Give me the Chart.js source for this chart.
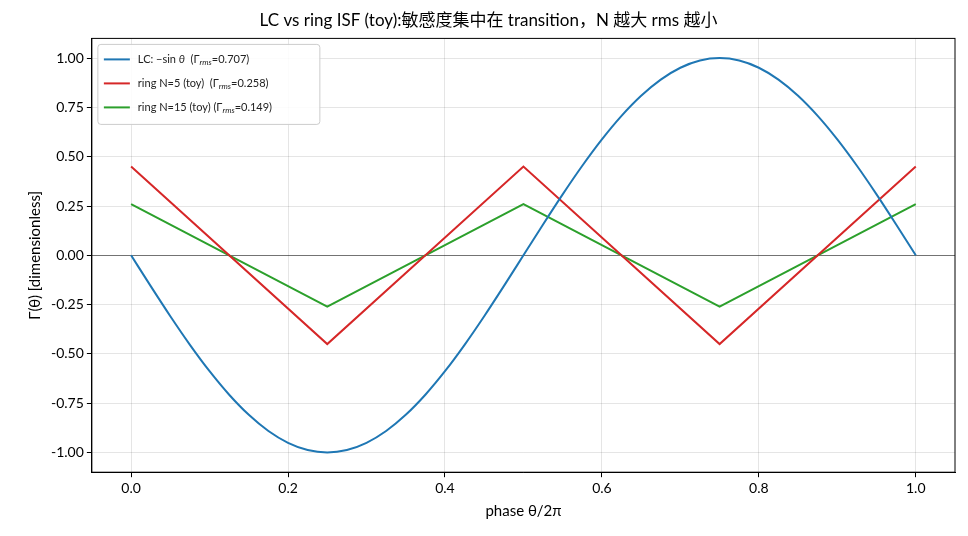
<!DOCTYPE html>
<html><head><meta charset="utf-8">
<script src="https://cdn.jsdelivr.net/npm/chart.js@4"></script>
<style>body{margin:0;background:#fff}#w{width:968px;height:536px}</style>
</head><body><div id="w"><canvas id="c"></canvas></div>
<script>
const lcPhase=[0,0.025,0.05,0.075,0.1,0.125,0.15,0.175,0.2,0.225,0.25,0.275,0.3,0.325,0.35,0.375,0.4,0.425,0.45,0.475,0.5,0.525,0.55,0.575,0.6,0.625,0.65,0.675,0.7,0.725,0.75,0.775,0.8,0.825,0.85,0.875,0.9,0.925,0.95,0.975,1];
const lcValues=[0,-0.1564,-0.309,-0.454,-0.5878,-0.7071,-0.809,-0.891,-0.9511,-0.9877,-1,-0.9877,-0.9511,-0.891,-0.809,-0.7071,-0.5878,-0.454,-0.309,-0.1564,0,0.1564,0.309,0.454,0.5878,0.7071,0.809,0.891,0.9511,0.9877,1,0.9877,0.9511,0.891,0.809,0.7071,0.5878,0.454,0.309,0.1564,0];
const ringPhase=[0,0.25,0.5,0.75,1];
const ring5=[0.45,-0.45,0.45,-0.45,0.45];
const ring15=[0.26,-0.26,0.26,-0.26,0.26];
const yTicks=[-1,-0.75,-0.5,-0.25,0,0.25,0.5,0.75,1];
const legendItems=[
 {c:'#1f77b4',parts:[['LC: \u2212sin ',''],['\u03b8','i'],['  (\u0393',''],['rms','s'],['=0.707)','']]},
 {c:'#d62728',parts:[['ring N=5 (toy)  (\u0393',''],['rms','s'],['=0.258)','']]},
 {c:'#2ca02c',parts:[['ring N=15 (toy) (\u0393',''],['rms','s'],['=0.149)','']]}];
const F='Lato, "Noto Sans CJK SC", sans-serif';
const pts=(xs,ys)=>xs.map((x,i)=>({x,y:ys[i]}));
const legendPlugin={id:'lg',afterDraw(ch){
 const {ctx,chartArea:a}=ch;ctx.save();
 ctx.strokeStyle='#000';ctx.lineWidth=1;ctx.strokeRect(a.left,a.top,a.right-a.left,a.bottom-a.top);
 const x0=a.left+6,y0=a.top+6,w=222,h=80;
 ctx.fillStyle='rgba(255,255,255,0.85)';ctx.strokeStyle='#ccc';
 ctx.beginPath();ctx.roundRect(x0,y0,w,h,3);ctx.fill();ctx.stroke();
 legendItems.forEach((it,i)=>{const y=y0+15+i*24;
  ctx.strokeStyle=it.c;ctx.lineWidth=2;ctx.beginPath();ctx.moveTo(x0+6,y);ctx.lineTo(x0+32,y);ctx.stroke();
  let x=x0+40;ctx.fillStyle='#222';ctx.textBaseline='middle';
  it.parts.forEach(([t,s])=>{ctx.font=(s==='s'?'italic 8px ':s==='i'?'italic 11px ':'11px ')+F;
   ctx.fillText(t,x,s==='s'?y+3:y);x+=ctx.measureText(t).width;});});
 ctx.restore();}};
new Chart(document.getElementById('c'),{type:'scatter',
 data:{datasets:[
  {data:pts(lcPhase,lcValues),borderColor:'#1f77b4',showLine:true,pointRadius:0,borderWidth:2,cubicInterpolationMode:'monotone'},
  {data:pts(ringPhase,ring5),borderColor:'#d62728',showLine:true,pointRadius:0,borderWidth:2},
  {data:pts(ringPhase,ring15),borderColor:'#2ca02c',showLine:true,pointRadius:0,borderWidth:2}]},
 options:{responsive:true,maintainAspectRatio:false,animation:false,
  layout:{padding:{left:22,right:13,top:4,bottom:12}},
  plugins:{legend:{display:false},tooltip:{enabled:false},
   title:{display:true,text:'LC vs ring ISF (toy):敏感度集中在 transition，N 越大 rms 越小',color:'#000',font:{family:F,size:17,weight:'normal'},padding:{top:6,bottom:8}}},
  scales:{
   x:{type:'linear',min:-0.05,max:1.05,border:{color:'#000'},
    afterBuildTicks(s){s.ticks=[0,0.2,0.4,0.6,0.8,1].map(v=>({value:v}));},
    ticks:{color:'#000',font:{family:F,size:14},callback:v=>v.toFixed(1)},
    grid:{color:'rgba(0,0,0,0.1)',tickColor:'#000',tickLength:5},
    title:{display:true,text:'phase θ/2π',color:'#000',font:{family:F,size:15},padding:{top:2}}},
   y:{min:-1.1,max:1.1,border:{color:'#000'},
    afterBuildTicks(s){s.ticks=yTicks.map(v=>({value:v}));},
    ticks:{color:'#000',font:{family:F,size:14},callback:v=>v.toFixed(2)},
    grid:{color:c=>c.tick&&c.tick.value===0?'rgba(0,0,0,0.55)':'rgba(0,0,0,0.1)',tickColor:'#000',tickLength:5},
    title:{display:true,text:'Γ(θ) [dimensionless]',color:'#000',font:{family:F,size:15}}}}},
 plugins:[legendPlugin]});
</script></body></html>
